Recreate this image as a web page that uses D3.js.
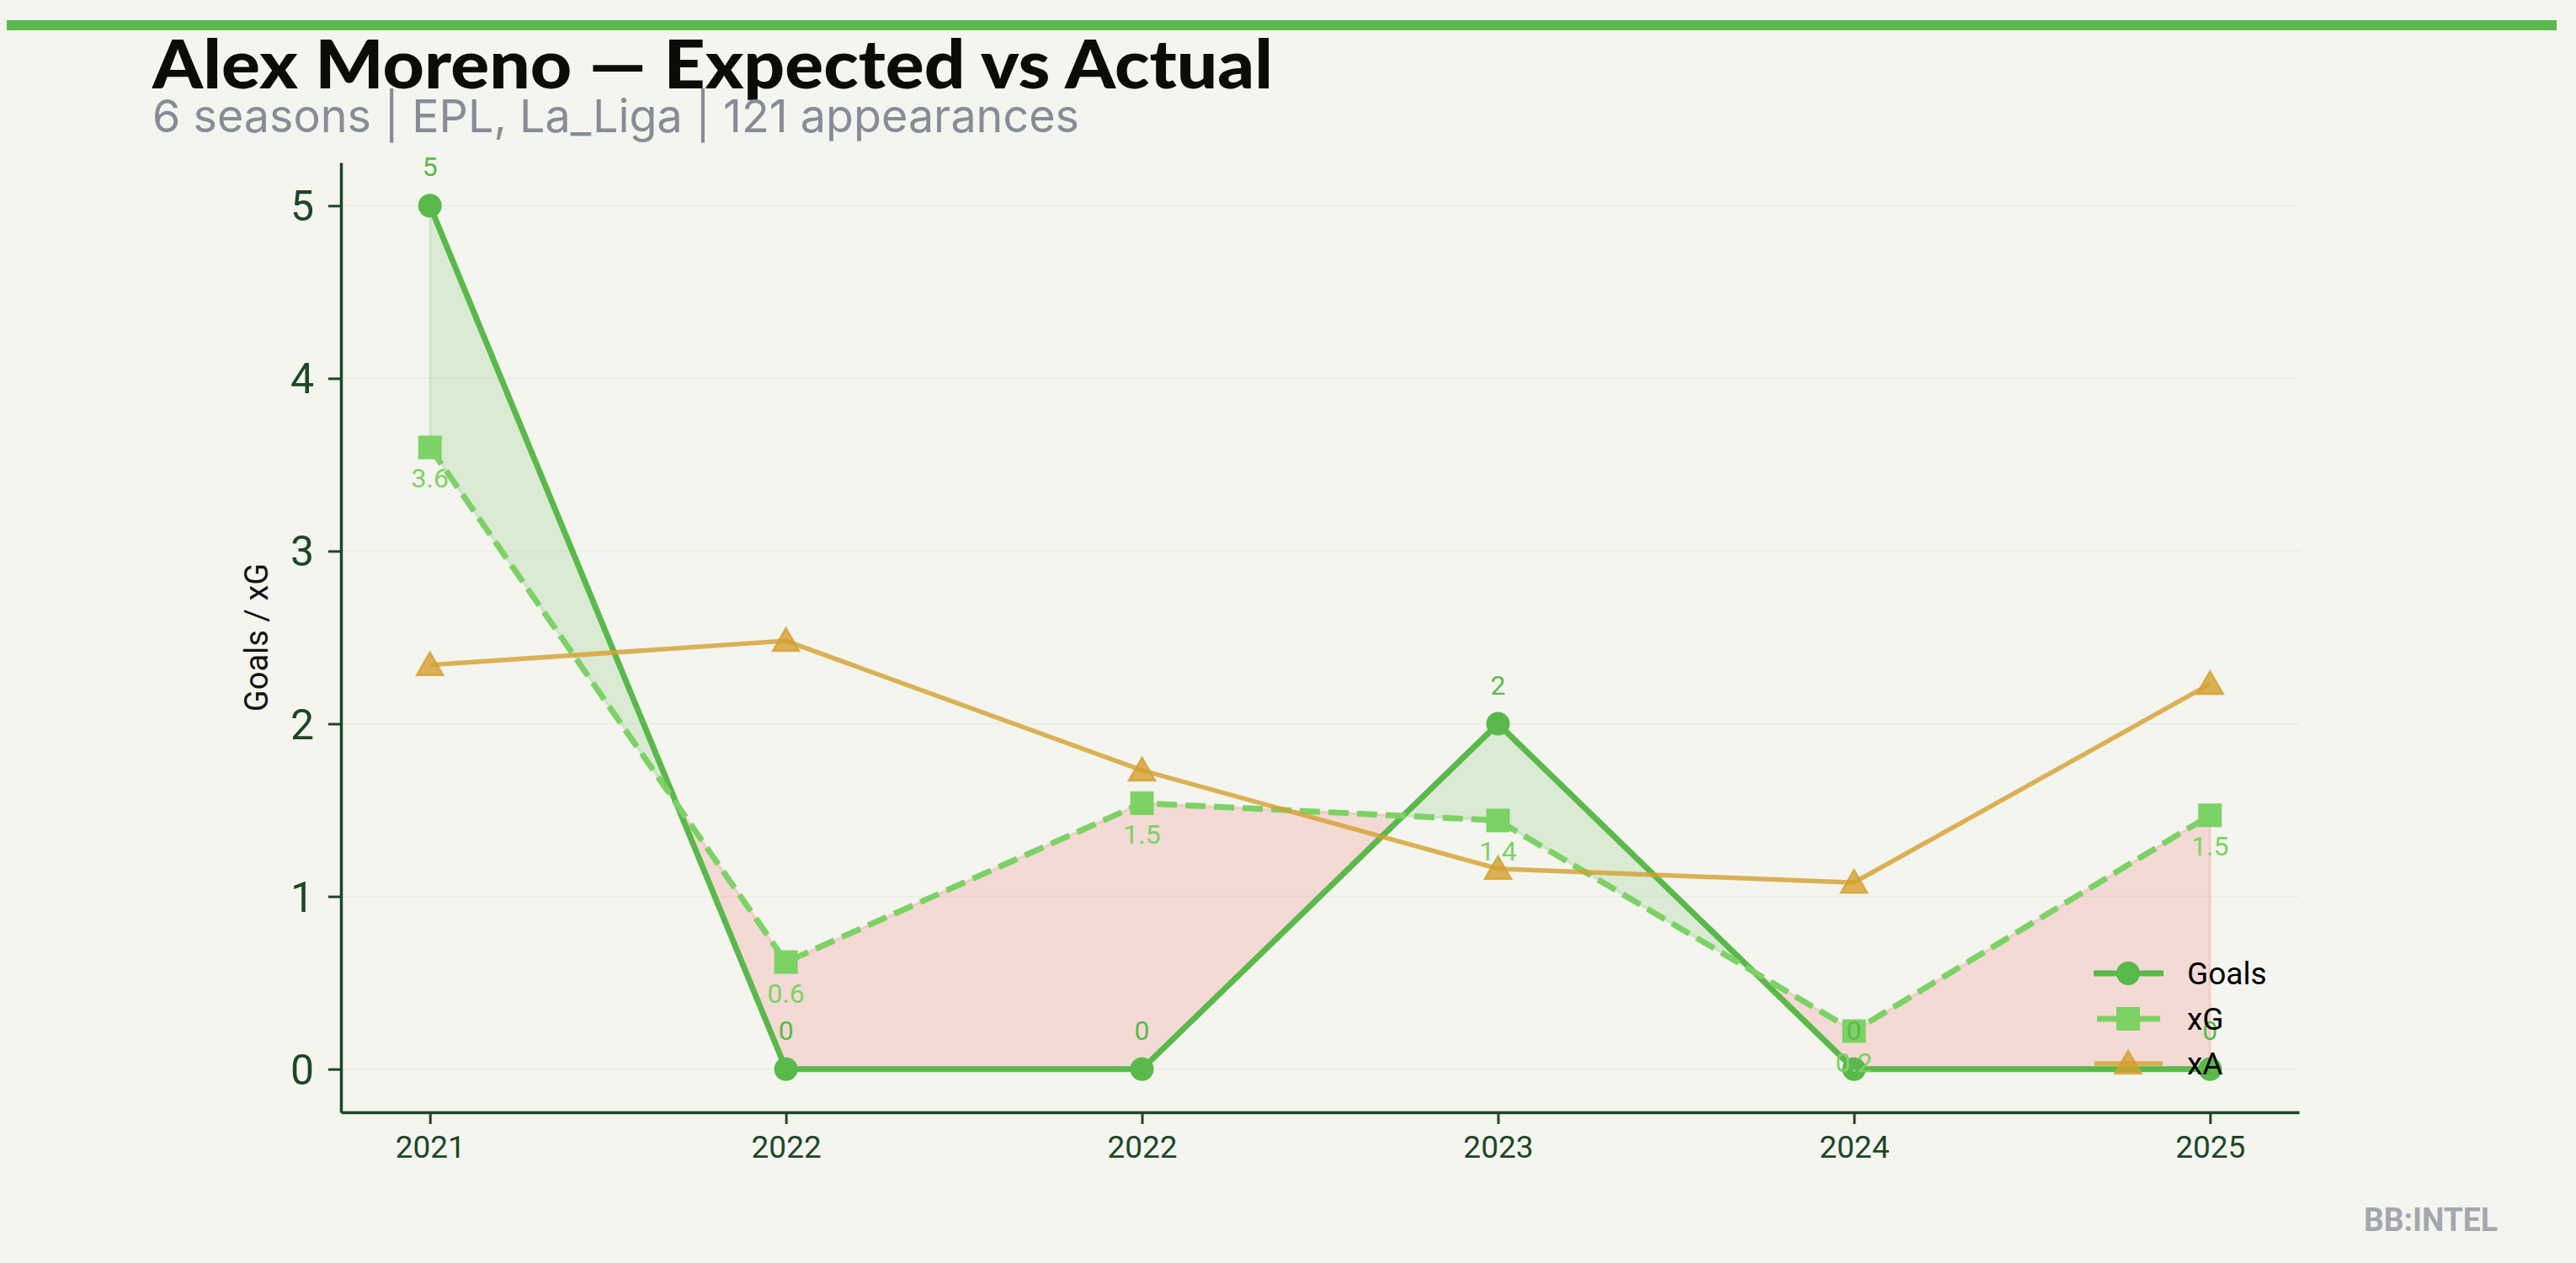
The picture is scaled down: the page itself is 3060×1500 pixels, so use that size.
<!DOCTYPE html>
<html>
<head>
<meta charset="utf-8">
<script src="https://cdn.jsdelivr.net/npm/d3@7"></script>
<style>
  html, body { margin: 0; padding: 0; background: #f4f5ef; }
  svg { display: block; }
</style>
</head>
<body>
<svg id="chart" width="3060" height="1500"></svg>
<script>
// ---- data ----
const seasons = ["2021", "2022", "2022", "2023", "2024", "2025"];
const goals   = [5, 0, 0, 2, 0, 0];
const xG      = [3.6, 0.62, 1.54, 1.44, 0.22, 1.47];
const xA      = [2.34, 2.48, 1.73, 1.16, 1.08, 2.23];
const yTicks  = [0, 1, 2, 3, 4, 5];
const seriesNames = ["Goals", "xG", "xA"];
const titleText = "Alex Moreno \u2014 Expected vs Actual";
const subtitleText = "6 seasons | EPL, La_Liga | 121 appearances";
const yLabel = "Goals / xG";
const brand = "BB:INTEL";

// ---- style ----
const BG = "#f4f5ef";
const GOAL_C = "#5ab94b";
const XG_C = "#7dd266";
const XA_C = "#d4a030";
const AXIS_C = "#1d4727";
const FONT = "Roboto, 'Noto Sans', sans-serif";

const svg = d3.select("#chart");
svg.append("rect").attr("width", 3060).attr("height", 1500).attr("fill", BG);

// top accent bar
svg.append("rect").attr("x", 8).attr("y", 24).attr("width", 3029).attr("height", 12).attr("fill", GOAL_C);

// title & subtitle
svg.append("text").attr("x", 181).attr("y", 105)
  .attr("font-family", "Lato, 'Noto Sans', sans-serif").attr("font-weight", 900)
  .attr("font-size", 80).attr("fill", "#0a0c0a")
  .attr("textLength", 1331).attr("lengthAdjust", "spacingAndGlyphs")
  .text(titleText);
svg.append("text").attr("x", 181).attr("y", 157)
  .attr("font-family", "Inter, Roboto, sans-serif").attr("font-size", 54).attr("fill", "#878c96")
  .attr("textLength", 1101).attr("lengthAdjust", "spacingAndGlyphs")
  .text(subtitleText);

// ---- scales ----
const idx = d3.range(seasons.length);
const x = d3.scaleLinear().domain([-0.25, 5.25]).range([405, 2731]);
const y = d3.scaleLinear().domain([-0.25, 5.25]).range([1321, 193]);

// grid
svg.append("g").selectAll("line").data(yTicks).join("line")
  .attr("x1", x(-0.25)).attr("x2", x(5.25))
  .attr("y1", d => y(d)).attr("y2", d => y(d))
  .attr("stroke", "#eceee6").attr("stroke-width", 2);

// ---- fill between goals and xG ----
const pts = [];
for (let k = 0; k < idx.length; k++) {
  pts.push({ i: k, g: goals[k], e: xG[k] });
  if (k < idx.length - 1) {
    const d0 = goals[k] - xG[k], d1 = goals[k + 1] - xG[k + 1];
    if (d0 * d1 < 0) {
      const t = d0 / (d0 - d1);
      pts.push({ i: k + t, g: goals[k] + t * (goals[k + 1] - goals[k]), e: xG[k] + t * (xG[k + 1] - xG[k]) });
    }
  }
}
const regions = [];
let cur = null;
for (let j = 0; j < pts.length - 1; j++) {
  const a = pts[j], b = pts[j + 1];
  const mid = ((a.g + b.g) / 2) - ((a.e + b.e) / 2);
  const sign = mid > 0 ? 1 : (mid < 0 ? -1 : 0);
  if (sign === 0) { cur = null; continue; }
  if (!cur || cur.sign !== sign) { cur = { sign, pts: [a] }; regions.push(cur); }
  cur.pts.push(b);
}
const GREEN_F = "rgba(90,185,75,0.17)";
const RED_F = "rgba(240,110,110,0.2)";
const area = d3.area().x(d => x(d.i)).y0(d => y(d.e)).y1(d => y(d.g));
svg.append("g").selectAll("path").data(regions).join("path")
  .attr("d", r => area(r.pts) + "Z")
  .attr("fill", r => r.sign > 0 ? GREEN_F : RED_F)
  .attr("stroke", r => r.sign > 0 ? GREEN_F : RED_F)
  .attr("stroke-width", 3);

// ---- axes ----
const xAxis = d3.axisBottom(x).tickValues(idx).tickFormat(i => seasons[i]).tickSize(14).tickSizeOuter(0);
const gx = svg.append("g").attr("transform", `translate(0,${y(-0.25)})`).call(xAxis);
gx.select(".domain").attr("stroke", AXIS_C).attr("stroke-width", 3.5);
gx.selectAll(".tick line").attr("stroke", AXIS_C).attr("stroke-width", 3);
gx.selectAll(".tick text").attr("font-family", FONT).attr("font-size", 37).attr("fill", AXIS_C).attr("y", 28).attr("dy", "0.71em");

const yAxis = d3.axisLeft(y).tickValues(yTicks).tickFormat(d3.format("d")).tickSize(15).tickSizeOuter(0);
const gy = svg.append("g").attr("transform", `translate(${x(-0.25)},0)`).call(yAxis);
gy.select(".domain").attr("stroke", AXIS_C).attr("stroke-width", 3.5);
gy.selectAll(".tick line").attr("stroke", AXIS_C).attr("stroke-width", 3);
gy.selectAll(".tick text").attr("font-family", FONT).attr("font-size", 50).attr("fill", AXIS_C).attr("x", -32).attr("dy", "0.35em");

svg.append("text")
  .attr("transform", `translate(318,${(y(-0.25) + y(5.25)) / 2}) rotate(-90)`)
  .attr("text-anchor", "middle").attr("font-family", FONT).attr("font-size", 38).attr("fill", "#111")
  .text(yLabel);

// ---- lines ----
const line = arr => d3.line().x(i => x(i)).y(i => y(arr[i]))(idx);
const triangle = d3.symbol().type(d3.symbolTriangle).size(420);

// Goals
svg.append("path").attr("d", line(goals)).attr("fill", "none").attr("stroke", GOAL_C).attr("stroke-width", 7).attr("stroke-linejoin", "round");
svg.append("g").selectAll("circle").data(idx).join("circle")
  .attr("cx", i => x(i)).attr("cy", i => y(goals[i])).attr("r", 14).attr("fill", GOAL_C);

// xG
svg.append("path").attr("d", line(xG)).attr("fill", "none").attr("stroke", XG_C).attr("stroke-width", 7).attr("stroke-dasharray", "24,10");
svg.append("g").selectAll("rect").data(idx).join("rect")
  .attr("x", i => x(i) - 14).attr("y", i => y(xG[i]) - 14).attr("width", 28).attr("height", 28).attr("fill", XG_C);

// xA
svg.append("path").attr("d", line(xA)).attr("fill", "none").attr("stroke", XA_C).attr("stroke-opacity", 0.8).attr("stroke-width", 5.5);
svg.append("g").selectAll("path").data(idx).join("path")
  .attr("d", triangle).attr("transform", i => `translate(${x(i)},${y(xA[i]) + 3})`)
  .attr("fill", XA_C).attr("fill-opacity", 0.8).attr("stroke", XA_C).attr("stroke-opacity", 0.8).attr("stroke-width", 2.5);

// ---- value labels ----
const fmt = v => String(+v.toFixed(1));
svg.append("g").selectAll("text").data(idx).join("text")
  .attr("x", i => x(i)).attr("y", i => y(goals[i]) - 35)
  .attr("text-anchor", "middle").attr("font-family", FONT).attr("font-size", 32).attr("fill", GOAL_C)
  .text(i => fmt(goals[i]));
svg.append("g").selectAll("text").data(idx).join("text")
  .attr("x", i => x(i)).attr("y", i => y(xG[i]) + 48)
  .attr("text-anchor", "middle").attr("font-family", FONT).attr("font-size", 32).attr("fill", XG_C)
  .text(i => fmt(xG[i]));

// ---- legend ----
const legY = [1156, 1210, 1263];
const lg = svg.append("g");
seriesNames.forEach((name, k) => {
  const row = lg.append("g").attr("transform", `translate(2487,${legY[k]})`);
  if (k === 0) {
    row.append("line").attr("x1", 0).attr("x2", 83).attr("stroke", GOAL_C).attr("stroke-width", 7);
    row.append("circle").attr("cx", 41).attr("r", 14).attr("fill", GOAL_C);
  } else if (k === 1) {
    row.append("line").attr("x1", 4).attr("x2", 79).attr("stroke", XG_C).attr("stroke-width", 7);
    row.append("rect").attr("x", 27).attr("y", -14).attr("width", 28).attr("height", 28).attr("fill", XG_C);
  } else {
    row.append("line").attr("x1", 1).attr("x2", 82).attr("stroke", XA_C).attr("stroke-opacity", 0.8).attr("stroke-width", 5.5);
    row.append("path").attr("d", triangle).attr("transform", "translate(41,3)")
      .attr("fill", XA_C).attr("fill-opacity", 0.8).attr("stroke", XA_C).attr("stroke-opacity", 0.8).attr("stroke-width", 2.5);
  }
  row.append("text").attr("x", 111).attr("dy", "0.35em").attr("font-family", FONT).attr("font-size", 37).attr("fill", "#000").text(name);
});

// ---- watermark ----
svg.append("text").attr("x", 2967).attr("y", 1462).attr("text-anchor", "end")
  .attr("font-family", FONT).attr("font-weight", 700).attr("font-size", 38).attr("fill", "#a4a7ae")
  .attr("textLength", 159).attr("lengthAdjust", "spacingAndGlyphs")
  .text(brand);
</script>
</body>
</html>
